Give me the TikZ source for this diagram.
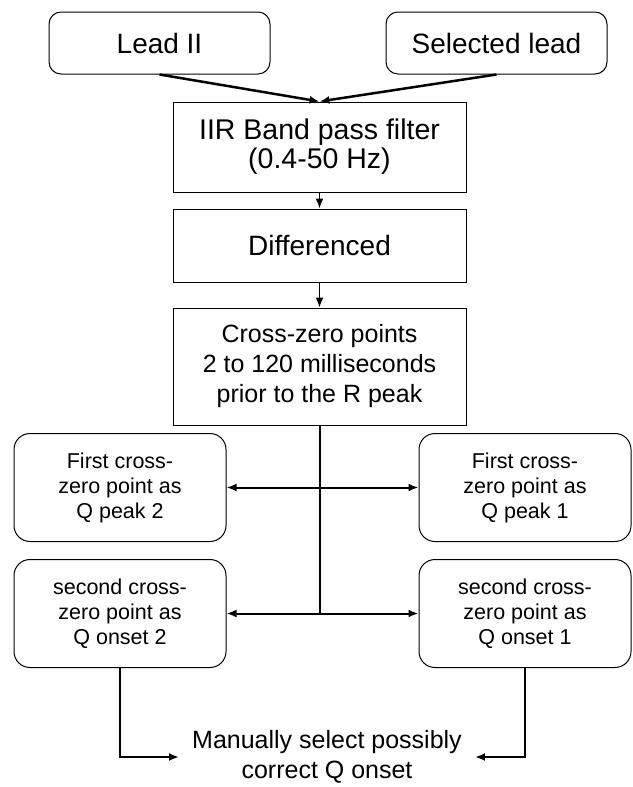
\documentclass[tikz,border=0pt]{standalone}
\usepackage{fontspec}
\setmainfont{Liberation Sans}
\usetikzlibrary{arrows.meta}

\begin{document}
\begin{tikzpicture}[x=1pt,y=-1pt,node distance=98.5pt]
  \tikzstyle{inbox}=[rectangle,rounded corners=12pt,draw=black,line width=1pt,minimum width=221pt,minimum height=62pt,font=\fontsize{28}{29}\selectfont]
  \tikzstyle{stepbox}=[rectangle,draw=black,line width=1pt,minimum width=293pt,align=center]
  \tikzstyle{qbox}=[rectangle,rounded corners=16pt,draw=black,line width=1pt,minimum width=212pt,minimum height=108pt,align=center,font=\fontsize{21.5}{25}\selectfont]
  \tikzstyle{flow}=[-{Latex[length=10pt,width=8pt]},line width=2pt]
  \useasboundingbox (0,0) rectangle (632,787);

  \node[inbox] (lead2) at (159.5,43) {Lead II};
  \node[inbox, right of=lead2, node distance=337pt] (sellead) {Selected lead};

  % filter chain
  \node[stepbox, minimum height=90pt, font=\fontsize{28.5}{29}\selectfont] (iir) at (319.5,147) {IIR Band pass filter\\(0.4-50 Hz)};
  \node[stepbox, below of=iir, minimum height=73pt, font=\fontsize{28}{29}\selectfont] (diff) {Differenced};
  \node[stepbox, below of=diff, node distance=121pt, minimum height=117pt, font=\fontsize{25}{30}\selectfont] (cross) {Cross-zero points\\2 to 120 milliseconds\\prior to the R peak};

  % Q candidates
  \node[qbox] (qpeak2) at (120,487.5) {First cross-\\zero point as\\Q peak 2};
  \node[qbox, right of=qpeak2, node distance=405pt] (qpeak1) {First cross-\\zero point as\\Q peak 1};
  \node[qbox, below of=qpeak2, node distance=126pt] (qonset2) {second cross-\\zero point as\\Q onset 2};
  \node[qbox, right of=qonset2, node distance=405pt] (qonset1) {second cross-\\zero point as\\Q onset 1};

  \node[align=center, inner xsep=13pt, font=\fontsize{25}{30}\selectfont] (manual) at (327,757) {Manually select possibly\\correct Q onset};

  % junctions on the trunk
  \coordinate (jpeak) at (cross.south |- qpeak2.east);
  \coordinate (jonset) at (cross.south |- qonset2.east);

  % edges
  \draw[flow, line width=2.5pt] (lead2.south) -- (iir.north);
  \draw[flow, line width=2.5pt] (sellead.south) -- (iir.north);
  \draw[flow, line width=1.6pt] (iir) -- (diff);
  \draw[flow, line width=1.6pt] (diff) -- (cross);
  \draw[line width=2pt] (cross.south) -- (jonset);
  \draw[flow] (jpeak) -- (qpeak2);
  \draw[flow] (jpeak) -- (qpeak1);
  \draw[flow] (jonset) -- (qonset2);
  \draw[flow] (jonset) -- (qonset1);
  \draw[flow] (qonset2.south) |- (manual.west);
  \draw[flow] (qonset1.south) |- (manual.east);

\end{tikzpicture}
\end{document}
